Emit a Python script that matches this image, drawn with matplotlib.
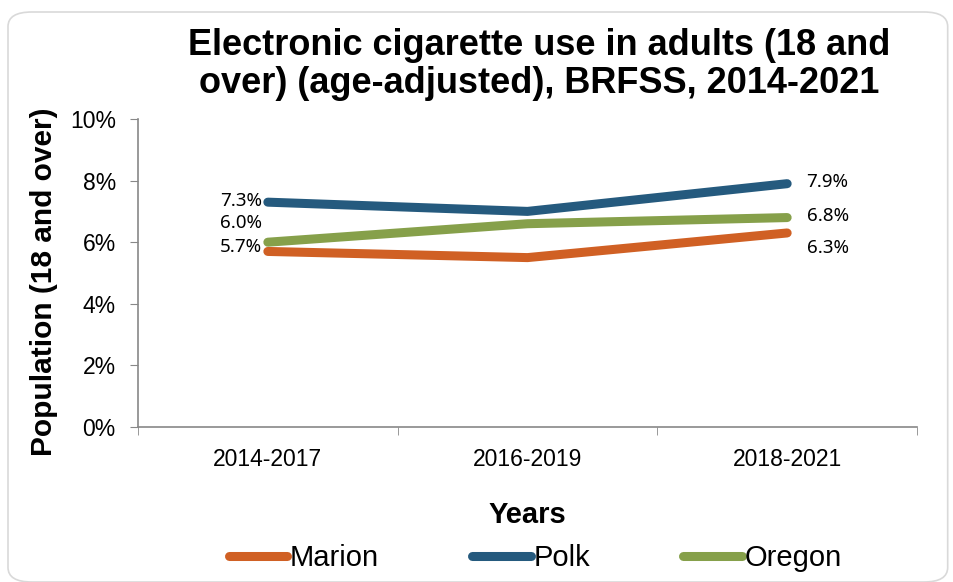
import matplotlib.pyplot as plt
from matplotlib.patches import FancyBboxPatch
from matplotlib.ticker import PercentFormatter

plt.rcParams['font.family'] = ['Liberation Sans', 'DejaVu Sans']

periods = ['2014-2017', '2016-2019', '2018-2021']
marion = [5.7, 5.5, 6.3]
polk = [7.3, 7.0, 7.9]
oregon = [6.0, 6.6, 6.8]

names = ['Marion', 'Polk', 'Oregon']
colors = ['#D06024', '#255A7E', '#86A04A']

fig = plt.figure(figsize=(9.54, 5.82), dpi=100)
ax = fig.add_axes([138 / 954, 1 - 427 / 582, 779 / 954, 308 / 582])

# rounded frame round the chart
fig.patches.append(FancyBboxPatch((8 / 954, 0.0), 0.985, 1 - 12 / 582,
                                  boxstyle='round,pad=0,rounding_size=0.025',
                                  transform=fig.transFigure, fill=False,
                                  edgecolor='#d9d9d9', linewidth=1.2))

x = range(len(periods))
for vals, name, c in zip([marion, polk, oregon], names, colors):
    ax.plot(x, vals, color=c, linewidth=6.5, solid_capstyle='round', label=name)

# data labels at first and last point
lab_font = dict(family=['Noto Sans', 'DejaVu Sans'], fontsize=13.5, color='black')
left_off = {'Marion': 3, 'Polk': 1, 'Oregon': 14}
right_off = {'Marion': -11, 'Polk': 1, 'Oregon': 1}
for vals, name in zip([marion, polk, oregon], names):
    ax.annotate(f'{vals[0]:.1f}%', (0, vals[0]), xytext=(-4, left_off[name]),
                textcoords='offset points', ha='right', va='center', **lab_font)
    ax.annotate(f'{vals[-1]:.1f}%', (2, vals[-1]), xytext=(14, right_off[name]),
                textcoords='offset points', ha='left', va='center', **lab_font)

ax.set_xlim(-0.5, 2.5)
ax.set_ylim(0, 10)
ax.set_yticks([0, 2, 4, 6, 8, 10])
ax.yaxis.set_major_formatter(PercentFormatter(decimals=0))
ax.set_xticks(list(x))
ax.set_xticklabels(periods)
ax.set_xticks([-0.5, 0.5, 1.5, 2.5], minor=True)
ax.tick_params(axis='x', which='major', length=0, pad=15, labelsize=16.5)
ax.tick_params(axis='x', which='minor', length=6, color='#888888')
ax.tick_params(axis='y', length=6, color='#888888', labelsize=16.5, pad=10)

for s in ['top', 'right']:
    ax.spines[s].set_visible(False)
for s in ['left', 'bottom']:
    ax.spines[s].set_color('#888888')
    ax.spines[s].set_linewidth(1.2)

ax.set_xlabel('Years', fontsize=21, fontweight='bold', labelpad=22)
ax.set_ylabel('Population (18 and over)', fontsize=21.5, fontweight='bold')
ax.yaxis.set_label_coords(-0.103, 0.47)

fig.text(0.565, 0.952, 'Electronic cigarette use in adults (18 and\nover) (age-adjusted), BRFSS, 2014-2021',
         ha='center', va='top', fontsize=26, fontweight='bold', linespacing=1.12)

ax.legend(loc='center', bbox_to_anchor=(0.51, -0.425), ncol=3, frameon=False,
          fontsize=21, handlelength=2.0, handletextpad=0.1, columnspacing=3.2)

fig.savefig('out.png', dpi=100)
